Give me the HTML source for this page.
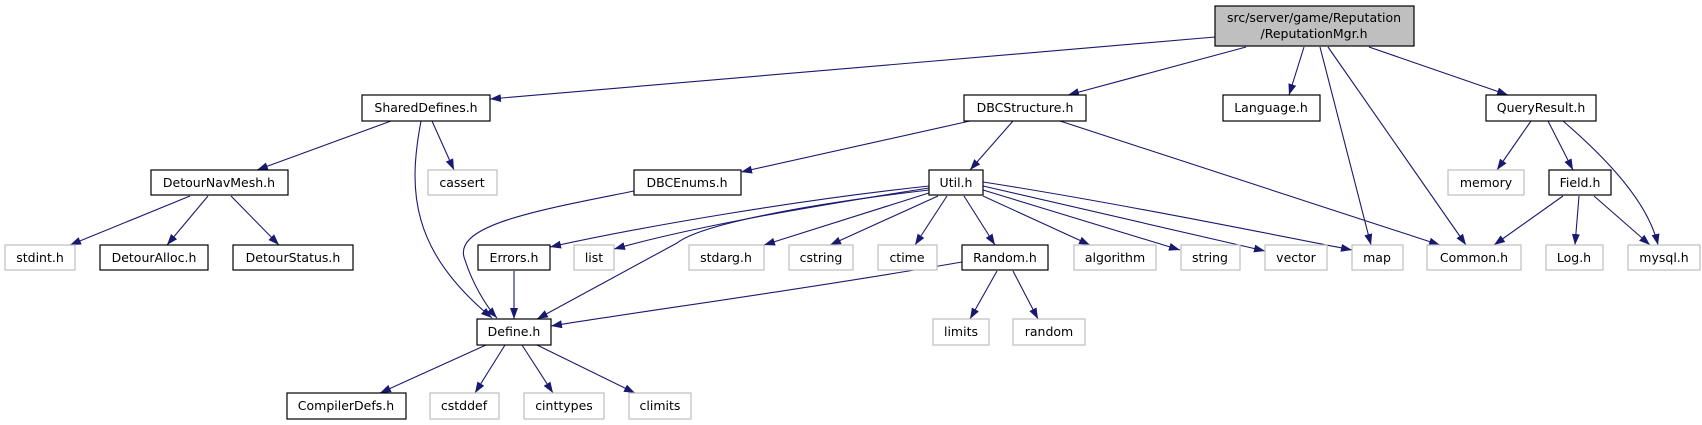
<!DOCTYPE html>
<html><head><meta charset="utf-8"><style>
html,body{margin:0;padding:0;background:#fff;}
svg{display:block;}
text{font-family:"DejaVu Sans","Liberation Sans",sans-serif;font-size:12.5px;text-anchor:middle;fill:#000;}
.n{fill:#fff;stroke:#000;stroke-width:1.2;}
.g{fill:#fff;stroke:#bfbfbf;stroke-width:1.2;}
.e{fill:none;stroke:#191970;stroke-width:1.1;marker-end:url(#a);}
</style></head><body>
<svg width="1702" height="425" viewBox="0 0 1702 425" xmlns="http://www.w3.org/2000/svg">
<defs><marker id="a" markerWidth="12" markerHeight="10" refX="11" refY="4" orient="auto" markerUnits="userSpaceOnUse"><path d="M0,0 L11,4 L0,8 z" fill="#191970"/></marker></defs>
<path class="e" d="M1215,37 L490,99"/>
<path class="e" d="M1246,47 L1068,95"/>
<path class="e" d="M1304,47 L1289,95"/>
<path class="e" d="M1320,47 L1371,245"/>
<path class="e" d="M1328,47 L1466,245"/>
<path class="e" d="M1369,47 L1508,95"/>
<path class="e" d="M391,121 L257,170"/>
<path class="e" d="M421,121 C408,190 410,250 492,318"/>
<path class="e" d="M432,121 L454,170"/>
<path class="e" d="M190,196 L70,245"/>
<path class="e" d="M208,196 L167,245"/>
<path class="e" d="M231,196 L279,245"/>
<path class="e" d="M970,121 L741,172"/>
<path class="e" d="M1013,121 L970,170"/>
<path class="e" d="M1060,121 L1440,245"/>
<path class="e" d="M634,191 C540,210 450,225 465,260 C472,282 485,305 497,318"/>
<path class="e" d="M929,186 C800,200 650,225 550,247"/>
<path class="e" d="M929,188 C820,205 700,225 614,249"/>
<path class="e" d="M929,190 C800,205 700,225 677,243 L537,319"/>
<path class="e" d="M932,192 L764,245"/>
<path class="e" d="M938,196 L830,245"/>
<path class="e" d="M947,196 L915,245"/>
<path class="e" d="M964,196 L995,245"/>
<path class="e" d="M983,196 L1090,245"/>
<path class="e" d="M983,190 L1180,250"/>
<path class="e" d="M983,186 L1265,251"/>
<path class="e" d="M983,182 C1100,200 1250,230 1352,250"/>
<path class="e" d="M962,262 C800,290 650,310 551,326"/>
<path class="e" d="M997,271 L970,319"/>
<path class="e" d="M1013,271 L1038,319"/>
<path class="e" d="M514,271 L514,319"/>
<path class="e" d="M486,345 L380,393"/>
<path class="e" d="M505,345 L475,393"/>
<path class="e" d="M522,345 L553,393"/>
<path class="e" d="M537,345 L635,393"/>
<path class="e" d="M1531,121 L1497,170"/>
<path class="e" d="M1548,121 L1573,170"/>
<path class="e" d="M1563,121 C1620,170 1650,210 1658,245"/>
<path class="e" d="M1563,196 L1494,245"/>
<path class="e" d="M1579,196 L1575,245"/>
<path class="e" d="M1594,196 L1650,245"/>
<rect x="1215" y="6" width="199" height="40" fill="#bfbfbf" stroke="#000" stroke-width="1.2"/>
<text x="1314" y="22">src/server/game/Reputation</text>
<text x="1314" y="38">/ReputationMgr.h</text>
<rect class="n" x="362" y="95" width="128" height="26"/><text x="426" y="112">SharedDefines.h</text>
<rect class="n" x="964" y="95" width="122" height="26"/><text x="1025" y="112">DBCStructure.h</text>
<rect class="n" x="1223" y="95" width="97" height="26"/><text x="1271" y="112">Language.h</text>
<rect class="n" x="1486" y="95" width="110" height="26"/><text x="1541" y="112">QueryResult.h</text>
<rect class="n" x="151" y="170" width="137" height="25"/><text x="219" y="187">DetourNavMesh.h</text>
<rect class="g" x="428" y="170" width="69" height="25"/><text x="462" y="187">cassert</text>
<rect class="n" x="634" y="170" width="107" height="25"/><text x="687" y="187">DBCEnums.h</text>
<rect class="n" x="929" y="170" width="54" height="25"/><text x="956" y="187">Util.h</text>
<rect class="g" x="1448" y="170" width="76" height="25"/><text x="1486" y="187">memory</text>
<rect class="n" x="1549" y="170" width="62" height="25"/><text x="1580" y="187">Field.h</text>
<rect class="g" x="5" y="245" width="70" height="25"/><text x="40" y="262">stdint.h</text>
<rect class="n" x="100" y="245" width="108" height="25"/><text x="154" y="262">DetourAlloc.h</text>
<rect class="n" x="233" y="245" width="120" height="25"/><text x="293" y="262">DetourStatus.h</text>
<rect class="n" x="478" y="245" width="72" height="25"/><text x="514" y="262">Errors.h</text>
<rect class="g" x="574" y="245" width="40" height="25"/><text x="594" y="262">list</text>
<rect class="g" x="689" y="245" width="75" height="25"/><text x="726" y="262">stdarg.h</text>
<rect class="g" x="789" y="245" width="64" height="25"/><text x="821" y="262">cstring</text>
<rect class="g" x="878" y="245" width="59" height="25"/><text x="907" y="262">ctime</text>
<rect class="n" x="962" y="245" width="86" height="25"/><text x="1005" y="262">Random.h</text>
<rect class="g" x="1074" y="245" width="82" height="25"/><text x="1115" y="262">algorithm</text>
<rect class="g" x="1181" y="245" width="59" height="25"/><text x="1210" y="262">string</text>
<rect class="g" x="1265" y="245" width="62" height="25"/><text x="1296" y="262">vector</text>
<rect class="g" x="1352" y="245" width="51" height="25"/><text x="1377" y="262">map</text>
<rect class="g" x="1427" y="245" width="94" height="25"/><text x="1474" y="262">Common.h</text>
<rect class="g" x="1546" y="245" width="57" height="25"/><text x="1574" y="262">Log.h</text>
<rect class="g" x="1628" y="245" width="72" height="25"/><text x="1664" y="262">mysql.h</text>
<rect class="n" x="477" y="319" width="74" height="26"/><text x="514" y="336">Define.h</text>
<rect class="g" x="933" y="319" width="56" height="26"/><text x="961" y="336">limits</text>
<rect class="g" x="1013" y="319" width="72" height="26"/><text x="1049" y="336">random</text>
<rect class="n" x="287" y="393" width="119" height="26"/><text x="346" y="410">CompilerDefs.h</text>
<rect class="g" x="430" y="393" width="69" height="26"/><text x="464" y="410">cstddef</text>
<rect class="g" x="524" y="393" width="80" height="26"/><text x="564" y="410">cinttypes</text>
<rect class="g" x="629" y="393" width="62" height="26"/><text x="660" y="410">climits</text>
</svg>
</body></html>
